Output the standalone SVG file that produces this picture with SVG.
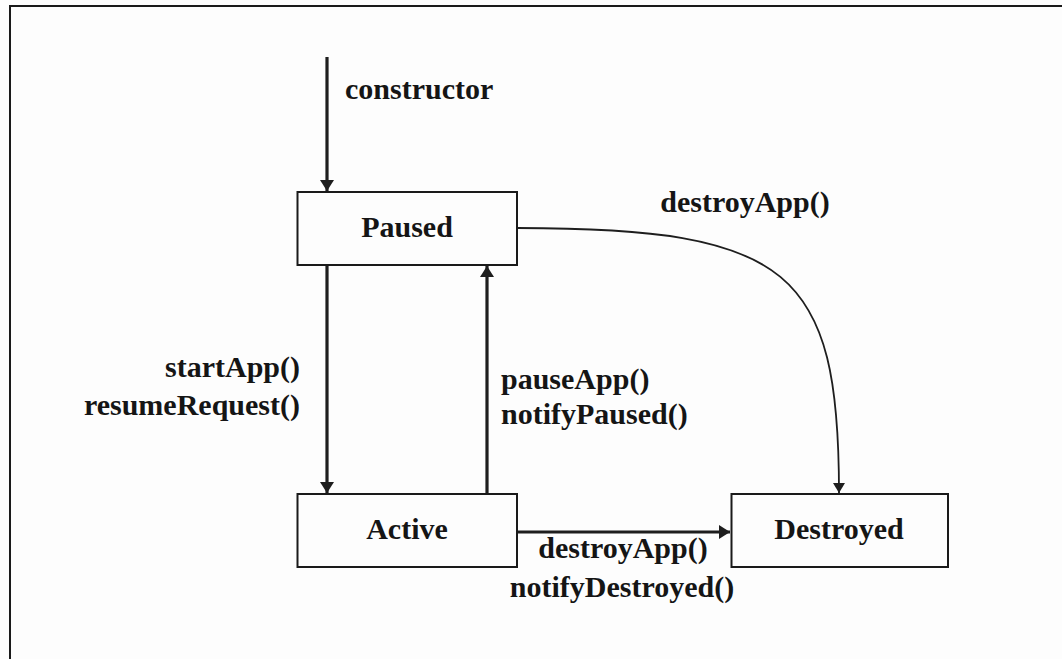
<svg xmlns="http://www.w3.org/2000/svg" width="1062" height="659" viewBox="0 0 1062 659">
<style>
.bg{fill:#fdfdfd}
.frame{fill:none;stroke:#1a1a1a;stroke-width:2}
.box{fill:#fdfdfd;stroke:#1a1a1a;stroke-width:2}
.lbl{font-family:"Liberation Serif","Times New Roman",serif;font-weight:bold;font-size:30px;fill:#151515}
.node{text-anchor:middle}
.thick{fill:none;stroke:#1e1e1e;stroke-width:3.2}
.thin{fill:none;stroke:#1e1e1e;stroke-width:1.8}
</style>
<defs>
<marker id="ah" markerUnits="userSpaceOnUse" markerWidth="12" markerHeight="14" refX="11" refY="7" orient="auto">
<path d="M0,0 L11,7 L0,14 z" fill="#1e1e1e"/>
</marker>
<marker id="ahs" markerUnits="userSpaceOnUse" markerWidth="11" markerHeight="12" refX="10" refY="6" orient="auto">
<path d="M0,0 L10,6 L0,12 z" fill="#1e1e1e"/>
</marker>
</defs>
<rect class="bg" x="0" y="0" width="1062" height="659"/>
<path class="frame" d="M10,659 V6 H1062"/>
<g id="connectors">
<path id="e-constructor" class="thick" d="M327,57 V191" marker-end="url(#ah)"/>
<path id="e-start" class="thick" d="M327,265 V493" marker-end="url(#ah)"/>
<path id="e-pause" class="thick" d="M487,494 V266" marker-end="url(#ah)"/>
<path id="e-destroy-active" class="thick" d="M516,532 H730" marker-end="url(#ah)"/>
<path id="e-destroy-paused" class="thin" d="M517,228 C790,228 839,270 839,493" marker-end="url(#ahs)"/>
<text class="lbl" x="345" y="99">constructor</text>
<text class="lbl" x="745" y="212" text-anchor="middle">destroyApp()</text>
<text class="lbl" x="300" y="377" text-anchor="end">startApp()</text>
<text class="lbl" x="300" y="415" text-anchor="end">resumeRequest()</text>
<text class="lbl" x="501" y="389">pauseApp()</text>
<text class="lbl" x="501" y="424">notifyPaused()</text>
<text class="lbl" x="623" y="558" text-anchor="middle">destroyApp()</text>
<text class="lbl" x="622" y="597" text-anchor="middle">notifyDestroyed()</text>
</g>
<g id="paused">
<rect class="box" x="297.5" y="192" width="219.5" height="73"/>
<text class="lbl node" x="407" y="237">Paused</text>
</g>
<g id="active">
<rect class="box" x="297.5" y="494" width="219.5" height="73"/>
<text class="lbl node" x="407" y="539">Active</text>
</g>
<g id="destroyed">
<rect class="box" x="731.5" y="494" width="216.5" height="73"/>
<text class="lbl node" x="839" y="539">Destroyed</text>
</g>
</svg>
